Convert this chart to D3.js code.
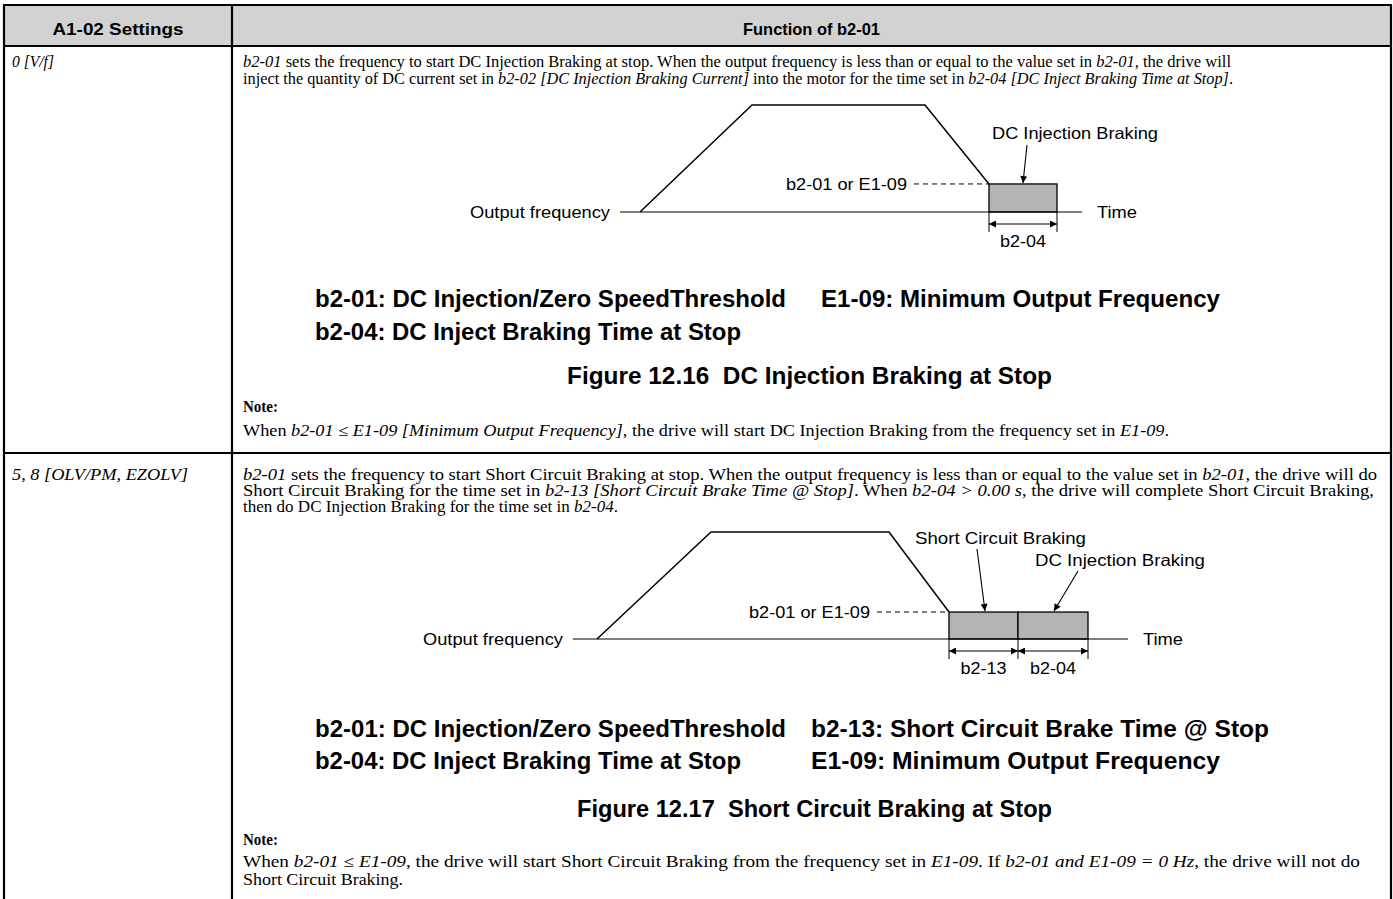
<!DOCTYPE html>
<html><head><meta charset="utf-8">
<script src="https://cdn.jsdelivr.net/npm/d3@7"></script>
<style>html,body{margin:0;padding:0;background:#fff;}svg{display:block;} text{white-space:pre;}</style>
</head><body>
<script>
// ---------- content data ----------
const headers = ["A1-02 Settings", "Function of b2-01"];
const settings = ["0 [V/f]", "5, 8 [OLV/PM, EZOLV]"];
// body text lines: [text, italic]
const row1Text = [
  [["b2-01",1],[" sets the frequency to start DC Injection Braking at stop. When the output frequency is less than or equal to the value set in ",0],["b2-01",1],[", the drive will",0]],
  [["inject the quantity of DC current set in ",0],["b2-02 [DC Injection Braking Current]",1],[" into the motor for the time set in ",0],["b2-04 [DC Inject Braking Time at Stop]",1],[".",0]]
];
const row1Note = [
  [["When ",0],["b2-01 \u2264 E1-09 [Minimum Output Frequency]",1],[", the drive will start DC Injection Braking from the frequency set in ",0],["E1-09",1],[".",0]]
];
const row2Text = [
  [["b2-01",1],[" sets the frequency to start Short Circuit Braking at stop. When the output frequency is less than or equal to the value set in ",0],["b2-01",1],[", the drive will do",0]],
  [["Short Circuit Braking for the time set in ",0],["b2-13 [Short Circuit Brake Time @ Stop]",1],[". When ",0],["b2-04 > 0.00 s",1],[", the drive will complete Short Circuit Braking,",0]],
  [["then do DC Injection Braking for the time set in ",0],["b2-04",1],[".",0]]
];
const row2Note = [
  [["When ",0],["b2-01 \u2264 E1-09",1],[", the drive will start Short Circuit Braking from the frequency set in ",0],["E1-09",1],[". If ",0],["b2-01 and E1-09 = 0 Hz",1],[", the drive will not do",0]],
  [["Short Circuit Braking.",0]]
];
const legend1 = ["b2-01: DC Injection/Zero SpeedThreshold", "E1-09: Minimum Output Frequency", "b2-04: DC Inject Braking Time at Stop"];
const legend2 = ["b2-01: DC Injection/Zero SpeedThreshold", "b2-13: Short Circuit Brake Time @ Stop", "b2-04: DC Inject Braking Time at Stop", "E1-09: Minimum Output Frequency"];
const captions = ["Figure 12.16  DC Injection Braking at Stop", "Figure 12.17  Short Circuit Braking at Stop"];

// frequency profile (time units, normalized frequency)
const profile1T = [0, 1.12, 2.85, 3.49];
const profile1F = [0, 1, 1, 0.262];
const brake1T = [3.49, 4.17];          // DC injection interval
const brake1Labels = ["b2-04"];
const profile2T = [0, 1.14, 2.92, 3.52];
const profile2F = [0, 1, 1, 0.252];
const brake2T = [3.52, 4.21, 4.91];    // short circuit, DC injection intervals
const brake2Labels = ["b2-13", "b2-04"];
const thresholdLabel = "b2-01 or E1-09";

// ---------- drawing ----------
const W = 1393, H = 899;
const svg = d3.select("body").append("svg").attr("width", W).attr("height", H);
svg.append("rect").attr("width", W).attr("height", H).attr("fill", "#fff");

const SERIF = "'Liberation Serif','Times New Roman',serif";
const SANS = "'Liberation Sans',Arial,sans-serif";
const BODY = 16;

// table
const tx = [4, 232, 1391];
const ty = [5, 46, 453, 899];
svg.append("rect").attr("x", tx[0]).attr("y", ty[0]).attr("width", tx[2]-tx[0]).attr("height", ty[1]-ty[0]).attr("fill", "#d2d2d2");
const tl = svg.append("g").attr("stroke", "#000").attr("stroke-width", 2.2);
[ty[0], ty[1], ty[2]].forEach(y => tl.append("line").attr("x1", tx[0]-1).attr("x2", tx[2]+1).attr("y1", y).attr("y2", y));
tx.forEach(x => tl.append("line").attr("x1", x).attr("x2", x).attr("y1", ty[0]).attr("y2", H));

function label(g, str, x, y, opt) {
  const t = g.append("text").attr("x", x).attr("y", y)
    .attr("font-family", opt.family || SANS).attr("font-size", opt.size || 16)
    .attr("font-weight", opt.weight || "normal").attr("font-style", opt.style || "normal")
    .attr("text-anchor", opt.anchor || "start").attr("fill", "#000").text(str);
  if (opt.width) t.attr("textLength", opt.width).attr("lengthAdjust", "spacingAndGlyphs");
  return t;
}
function richLine(g, parts, x, y, width) {
  const t = g.append("text").attr("x", x).attr("y", y).attr("font-family", SERIF).attr("font-size", BODY).attr("fill", "#000");
  parts.forEach(p => t.append("tspan").attr("font-style", p[1] ? "italic" : "normal").text(p[0]));
  if (width) t.attr("textLength", width).attr("lengthAdjust", "spacingAndGlyphs");
  return t;
}

// headers
label(svg, headers[0], (tx[0]+tx[1])/2, 35, {size: 16.5, weight: "bold", anchor: "middle", width: 131});
label(svg, headers[1], (tx[1]+tx[2])/2, 35, {size: 16.5, weight: "bold", anchor: "middle", width: 137});
// left column
label(svg, settings[0], 12, 67, {family: SERIF, size: BODY, style: "italic", width: 42});
label(svg, settings[1], 12, 480, {family: SERIF, size: BODY, style: "italic", width: 176});

// body text
const TX = 243;
const row1W = [988, 990];
row1Text.forEach((l, i) => richLine(svg, l, TX, 67 + i*17, row1W[i]));
label(svg, "Note:", TX, 412, {family: SERIF, size: BODY, weight: "bold", width: 35});
richLine(svg, row1Note[0], TX, 436, 926);
const row2W = [1134, 1131, 375];
row2Text.forEach((l, i) => richLine(svg, l, TX, 480 + i*16, row2W[i]));
label(svg, "Note:", TX, 845, {family: SERIF, size: BODY, weight: "bold", width: 35});
const note2W = [1117, 160];
row2Note.forEach((l, i) => richLine(svg, l, TX, 867 + i*18, note2W[i]));

// legends & captions
const LS = 23;
label(svg, legend1[0], 315, 307, {size: LS, weight: "bold", width: 471});
label(svg, legend1[1], 821, 307, {size: LS, weight: "bold", width: 399});
label(svg, legend1[2], 315, 340, {size: LS, weight: "bold", width: 426});
label(svg, captions[0], 567, 384, {size: LS, weight: "bold", width: 485});
label(svg, legend2[0], 315, 737, {size: LS, weight: "bold", width: 471});
label(svg, legend2[1], 811, 737, {size: LS, weight: "bold", width: 458});
label(svg, legend2[2], 315, 769, {size: LS, weight: "bold", width: 426});
label(svg, legend2[3], 811, 769, {size: LS, weight: "bold", width: 409});
label(svg, captions[1], 577, 817, {size: LS, weight: "bold", width: 475});

// arrow markers
const defs = svg.append("defs");
function marker(id, orient) {
  defs.append("marker").attr("id", id).attr("viewBox", "0 0 10 10").attr("refX", 10).attr("refY", 5)
    .attr("markerWidth", 12).attr("markerHeight", 7).attr("markerUnits", "userSpaceOnUse").attr("orient", orient)
    .append("path").attr("d", "M0,0 L10,5 L0,10 Z").attr("fill", "#000");
}
marker("ah", "auto");
marker("ahs", "auto-start-reverse");

function diagram(cfg) {
  const x = d3.scaleLinear().domain([0, 1]).range([cfg.x0, cfg.x0 + cfg.unit]);
  const y = d3.scaleLinear().domain([0, 1]).range([cfg.y0, cfg.yTop]);
  const g = svg.append("g");
  const T = cfg.brakeT, lvl = cfg.F[cfg.F.length-1];
  // brake boxes
  for (let i = 0; i < T.length-1; i++) {
    g.append("rect").attr("x", x(T[i])).attr("y", y(lvl)).attr("width", x(T[i+1])-x(T[i])).attr("height", y(0)-y(lvl))
      .attr("fill", "#b3b3b3").attr("stroke", "#000").attr("stroke-width", 1.3);
  }
  // baseline
  g.append("line").attr("x1", x(0) - cfg.lead).attr("x2", x(T[T.length-1]) + cfg.tail).attr("y1", y(0)).attr("y2", y(0))
    .attr("stroke", "#000").attr("stroke-width", 1.2);
  // profile
  const line = d3.line().x(d => x(d[0])).y(d => y(d[1]));
  g.append("path").attr("d", line(cfg.T.map((t, i) => [t, cfg.F[i]]))).attr("fill", "none").attr("stroke", "#000").attr("stroke-width", 1.5);
  // dashed threshold
  g.append("line").attr("x1", x(T[0]) - cfg.dash).attr("x2", x(T[0])).attr("y1", y(lvl)).attr("y2", y(lvl))
    .attr("stroke", "#000").attr("stroke-width", 1).attr("stroke-dasharray", "5,4");
  label(g, thresholdLabel, x(T[0]) - cfg.dash - 7, y(lvl) + 6, {size: 16.5, anchor: "end", width: 121});
  label(g, "Output frequency", x(0) - cfg.lead - 10, y(0) + 6, {size: 16.5, anchor: "end", width: 140});
  label(g, "Time", x(T[T.length-1]) + cfg.tail + 15, y(0) + 6, {size: 16.5, width: 40});
  // dimension ticks & arrows
  T.forEach(t => g.append("line").attr("x1", x(t)).attr("x2", x(t)).attr("y1", y(0)).attr("y2", y(0) + 20).attr("stroke", "#000").attr("stroke-width", 1));
  for (let i = 0; i < T.length-1; i++) {
    g.append("line").attr("x1", x(T[i])).attr("x2", x(T[i+1])).attr("y1", y(0) + 12).attr("y2", y(0) + 12)
      .attr("stroke", "#000").attr("stroke-width", 1.2).attr("marker-start", "url(#ahs)").attr("marker-end", "url(#ah)");
    label(g, cfg.brakeLabels[i], (x(T[i]) + x(T[i+1]))/2, y(0) + 35, {size: 16.5, anchor: "middle", width: 46});
  }
  // callouts
  cfg.callouts.forEach(c => {
    label(g, c.text, c.lx, c.ly, {size: 16.5, width: c.w});
    g.append("line").attr("x1", c.from[0]).attr("y1", c.from[1]).attr("x2", c.to[0]).attr("y2", c.to[1])
      .attr("stroke", "#000").attr("stroke-width", 1.1).attr("marker-end", "url(#ah)");
  });
}

diagram({x0: 640, unit: 100, y0: 212, yTop: 105, T: profile1T, F: profile1F, brakeT: brake1T, brakeLabels: brake1Labels,
  lead: 20, tail: 25, dash: 75,
  callouts: [{text: "DC Injection Braking", lx: 992, ly: 139, w: 166, from: [1027, 145], to: [1023, 183]}]});
diagram({x0: 597, unit: 100, y0: 639, yTop: 532, T: profile2T, F: profile2F, brakeT: brake2T, brakeLabels: brake2Labels,
  lead: 24, tail: 40, dash: 72,
  callouts: [{text: "Short Circuit Braking", lx: 915, ly: 544, w: 171, from: [977, 549], to: [985, 611]},
             {text: "DC Injection Braking", lx: 1035, ly: 566, w: 170, from: [1078, 571], to: [1054, 611]}]});
</script>
</body></html>
